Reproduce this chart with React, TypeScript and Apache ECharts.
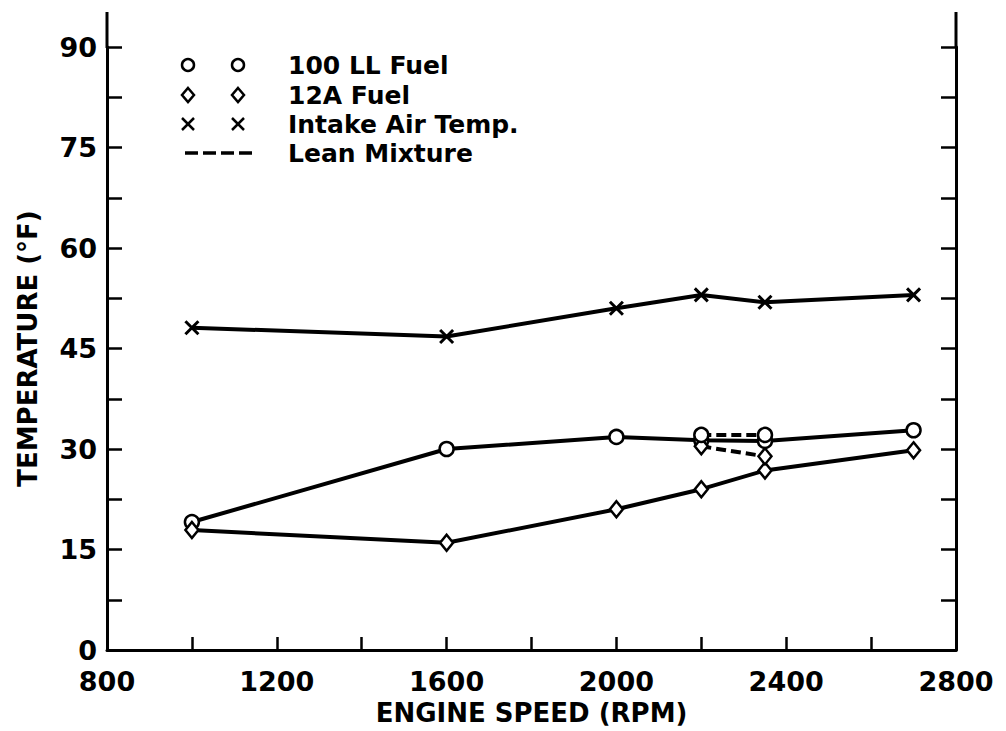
import React, { useEffect, useRef } from "react";
import * as echarts from "echarts";

const rpm = [1000, 1600, 2000, 2200, 2350, 2700];
const fuel100LL = [19.1, 30, 31.8, 31.3, 31.2, 32.8];
const fuel12A = [17.9, 16, 21, 24, 26.8, 29.8];
const intakeAir = [48.1, 46.8, 51, 53, 51.9, 53];
const rpmLean = [2200, 2350];
const lean100LL = [32.1, 32.1];
const lean12A = [30.4, 28.9];

const xTicks = { min: 800, max: 2800, interval: 400 };
const yTicks = { min: 0, max: 90, interval: 15 };

const legendItems = ["100 LL Fuel", "12A Fuel", "Intake Air Temp.", "Lean Mixture"];

const FONT = '"DejaVu Sans", sans-serif';
const BLACK = "#000";
const CROSS = "path://M0 0L10 10M10 0L0 10";

const pairs = (xs: number[], ys: number[]) => xs.map((x, i) => [x, ys[i]]);

export default function App() {
  const ref = useRef<HTMLDivElement>(null);
  useEffect(() => {
    document.body.style.margin = "0";
    const chart = echarts.init(ref.current!, null, { renderer: "svg" });
    const tickStyle = { color: BLACK, width: 2.5 };
    const labelStyle = { color: BLACK, fontFamily: FONT, fontWeight: "bold" as const, fontSize: 27 };
    const yBase = (pos: "left" | "right") => ({
      type: "value",
      position: pos,
      min: yTicks.min,
      max: yTicks.max,
      interval: yTicks.interval,
      axisLine: { show: true, onZero: false, lineStyle: { color: BLACK, width: 3 } },
      axisTick: { show: true, inside: true, length: 15, lineStyle: tickStyle },
      minorTick: { show: true, splitNumber: 2, length: 15, lineStyle: tickStyle },
      splitLine: { show: false },
      minorSplitLine: { show: false },
    });
    const lineSeries = (name: string, xs: number[], ys: number[], symbol: string, dashed: boolean, size: number | number[], z: number) => ({
      type: "line",
      name,
      data: pairs(xs, ys),
      symbol,
      symbolSize: size,
      showAllSymbol: true,
      z,
      lineStyle: { color: BLACK, width: 4, type: dashed ? [10, 5] : "solid" },
      itemStyle: symbol === CROSS
        ? { color: BLACK, borderColor: BLACK, borderWidth: 3 }
        : { color: "#fff", borderColor: BLACK, borderWidth: 2.5 },
      emphasis: { disabled: true },
    });

    const legendRowsY = [65, 95, 124, 153];
    const mx = [188, 238];
    const graphics: any[] = [
      { type: "line", shape: { x1: 107, y1: 12, x2: 107, y2: 48 }, style: { stroke: BLACK, lineWidth: 3 } },
      { type: "line", shape: { x1: 956, y1: 12, x2: 956, y2: 48 }, style: { stroke: BLACK, lineWidth: 3 } },
    ];
    legendItems.forEach((t, i) => {
      graphics.push({
        type: "text",
        x: 288,
        y: legendRowsY[i],
        style: { text: t, fill: BLACK, font: `bold 25px ${FONT}`, verticalAlign: "middle", align: "left" },
      });
    });
    mx.forEach((x) => {
      graphics.push({ type: "circle", shape: { cx: x, cy: legendRowsY[0], r: 6 }, style: { fill: "#fff", stroke: BLACK, lineWidth: 2.5 } });
      const cy = legendRowsY[1];
      graphics.push({ type: "polygon", shape: { points: [[x, cy - 7], [x + 6, cy], [x, cy + 7], [x - 6, cy]] }, style: { fill: "#fff", stroke: BLACK, lineWidth: 2.5 } });
      const cy2 = legendRowsY[2];
      graphics.push({ type: "line", shape: { x1: x - 6, y1: cy2 - 6, x2: x + 6, y2: cy2 + 6 }, style: { stroke: BLACK, lineWidth: 2.5 } });
      graphics.push({ type: "line", shape: { x1: x + 6, y1: cy2 - 6, x2: x - 6, y2: cy2 + 6 }, style: { stroke: BLACK, lineWidth: 2.5 } });
    });
    graphics.push({ type: "line", shape: { x1: 185, y1: legendRowsY[3], x2: 252, y2: legendRowsY[3] }, style: { stroke: BLACK, lineWidth: 3.5, lineDash: [13, 5] } });

    chart.setOption({
      animation: false,
      backgroundColor: "#fff",
      grid: { left: 107, right: 50, top: 47, bottom: 81, outerBoundsMode: "none" },
      xAxis: {
        type: "value",
        min: xTicks.min,
        max: xTicks.max,
        interval: xTicks.interval,
        name: "ENGINE SPEED (RPM)",
        nameLocation: "middle",
        nameGap: 47,
        nameTextStyle: { ...labelStyle, fontSize: 26 },
        axisLine: { show: true, onZero: false, lineStyle: { color: BLACK, width: 3 } },
        axisTick: { show: true, inside: true, length: 13, lineStyle: tickStyle },
        minorTick: { show: true, splitNumber: 2, length: 13, lineStyle: tickStyle },
        splitLine: { show: false },
        minorSplitLine: { show: false },
        axisLabel: { ...labelStyle, margin: 18, formatter: (v: number) => String(v) },
      },
      yAxis: [
        {
          ...yBase("left"),
          name: "TEMPERATURE (°F)",
          nameLocation: "middle",
          nameGap: 66,
          nameTextStyle: { ...labelStyle, fontSize: 26 },
          axisLabel: { ...labelStyle, margin: 10, formatter: (v: number) => String(v) },
        },
        { ...yBase("right"), axisLabel: { show: false } },
      ],
      series: [
        lineSeries("100 LL Fuel", rpm, fuel100LL, "circle", false, 14, 2),
        lineSeries("12A Fuel", rpm, fuel12A, "diamond", false, [13, 16], 2),
        lineSeries("Intake Air Temp.", rpm, intakeAir, CROSS, false, 13, 2),
        lineSeries("12A Fuel (Lean)", rpmLean, lean12A, "diamond", true, [13, 16], 3),
        lineSeries("100 LL Fuel (Lean)", rpmLean, lean100LL, "circle", true, 14, 4),
      ],
      graphic: graphics,
    });
    return () => chart.dispose();
  }, []);
  return <div ref={ref} style={{ width: 1006, height: 731 }} />;
}
